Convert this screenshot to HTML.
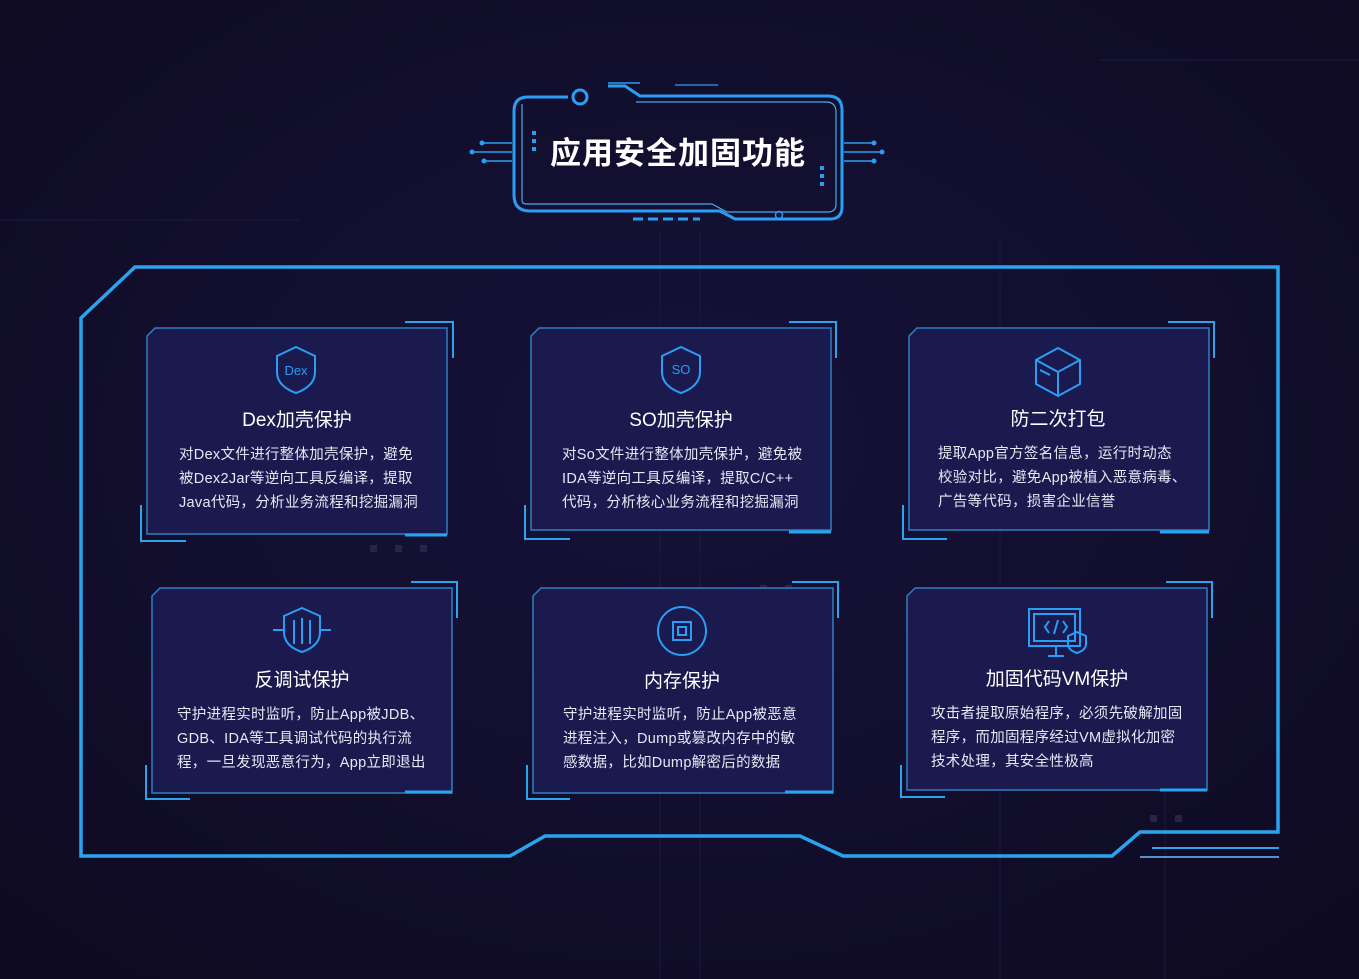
<!DOCTYPE html>
<html><head><meta charset="utf-8"><style>
html,body{margin:0;padding:0;background:#110d27;}
svg{display:block}
text{font-family:"Liberation Sans","Noto Sans CJK SC",sans-serif;}
</style></head><body>
<svg width="1359" height="979" viewBox="0 0 1359 979" xmlns="http://www.w3.org/2000/svg">
<defs>
<radialGradient id="bg" cx="50%" cy="45%" r="70%">
<stop offset="0" stop-color="#15123a"/><stop offset="1" stop-color="#0f0b22"/>
</radialGradient>
</defs>
<rect width="1359" height="979" fill="url(#bg)"/>
<g stroke="#1c1a3e" stroke-width="1" fill="none">
<line x1="660" y1="230" x2="660" y2="979"/><line x1="700" y1="230" x2="700" y2="979"/>
<line x1="1000" y1="240" x2="1000" y2="979"/><line x1="1165" y1="700" x2="1165" y2="979"/>
<line x1="0" y1="220" x2="300" y2="220"/><line x1="1100" y1="60" x2="1359" y2="60"/>
</g>
<g fill="#262448">
<rect x="370" y="545" width="7" height="7"/><rect x="395" y="545" width="7" height="7"/><rect x="420" y="545" width="7" height="7"/>
<rect x="370" y="605" width="7" height="7"/><rect x="395" y="605" width="7" height="7"/><rect x="420" y="605" width="7" height="7"/>
<rect x="370" y="630" width="7" height="7"/><rect x="395" y="630" width="7" height="7"/><rect x="420" y="630" width="7" height="7"/>
<rect x="760" y="585" width="7" height="7"/><rect x="785" y="585" width="7" height="7"/>
<rect x="1150" y="815" width="7" height="7"/><rect x="1175" y="815" width="7" height="7"/>
</g>

<g fill="none" stroke="#2a9df4">
<path d="M568 97 H528 Q514 97 514 111 V195 Q514 211 530 211 H720 L735 219 H830 Q842 219 842 207 V110 Q842 96 828 96 H640 L625 86 H608" stroke-width="3"/>
<path d="M522 104 V200 Q522 204 526 204 H712 L727 212 H828 Q836 212 836 204 V112 Q836 102 826 102 H636" stroke-width="1.2" stroke="#4aa8e8"/>
<circle cx="580" cy="97" r="7" stroke-width="3"/>
<circle cx="779" cy="215" r="3.5" stroke-width="1.5"/>
<line x1="608" y1="83" x2="640" y2="83" stroke-width="1.5"/>
<line x1="675" y1="85" x2="718" y2="85" stroke-width="1.2"/>
<path d="M482 143 H512 M474 152 H512 M484 161 H512 M844 143 H874 M844 152 H880 M844 161 H874" stroke-width="1.5"/>
<path d="M633 219 H700" stroke-width="3" stroke-dasharray="10 5"/>
</g>
<g fill="#2a9df4">
<circle cx="482" cy="143" r="2.5"/><circle cx="472" cy="152" r="2.5"/><circle cx="484" cy="161" r="2.5"/>
<circle cx="874" cy="143" r="2.5"/><circle cx="882" cy="152" r="2.5"/><circle cx="874" cy="161" r="2.5"/>
<rect x="532" y="131" width="4" height="4"/><rect x="532" y="139" width="4" height="4"/><rect x="532" y="147" width="4" height="4"/>
<rect x="820" y="166" width="4" height="4"/><rect x="820" y="174" width="4" height="4"/><rect x="820" y="182" width="4" height="4"/>
</g>
<text x="678" y="164" text-anchor="middle" font-size="31" font-weight="bold" fill="#ffffff" letter-spacing="1">应用安全加固功能</text>

<g fill="none" stroke="#2aa4ef" stroke-width="3.5">
<path d="M81 856 V318 L135 267 H1278 V832 H1140 L1112 856 H843 L800 836 H545 L510 856 Z"/>
</g>
<line x1="1152" y1="848" x2="1279" y2="848" stroke="#2aa4ef" stroke-width="2"/>
<line x1="1140" y1="857" x2="1279" y2="857" stroke="#5a8fc8" stroke-width="2"/>

<g>
<polygon points="155,328 447,328 447,534 147,534 147,336" fill="#1b1a4f" stroke="#2f7fc4" stroke-width="1.5"/>
<path d="M405 322 H453 V358" fill="none" stroke="#2aa4ef" stroke-width="2"/>
<path d="M141 505 V541 H186" fill="none" stroke="#2aa4ef" stroke-width="2"/>
<line x1="405" y1="535" x2="447" y2="535" stroke="#2aa4ef" stroke-width="3"/>
</g>
<g>
<polygon points="539,328 831,328 831,530 531,530 531,336" fill="#1b1a4f" stroke="#2f7fc4" stroke-width="1.5"/>
<path d="M789 322 H836 V358" fill="none" stroke="#2aa4ef" stroke-width="2"/>
<path d="M525 505 V539 H570" fill="none" stroke="#2aa4ef" stroke-width="2"/>
<line x1="789" y1="532" x2="831" y2="532" stroke="#2aa4ef" stroke-width="3"/>
</g>
<g>
<polygon points="917,328 1209,328 1209,530 909,530 909,336" fill="#1b1a4f" stroke="#2f7fc4" stroke-width="1.5"/>
<path d="M1168 322 H1214 V358" fill="none" stroke="#2aa4ef" stroke-width="2"/>
<path d="M903 505 V539 H947" fill="none" stroke="#2aa4ef" stroke-width="2"/>
<line x1="1160" y1="532" x2="1209" y2="532" stroke="#2aa4ef" stroke-width="3"/>
</g>
<g>
<polygon points="160,588 452,588 452,793 152,793 152,596" fill="#1b1a4f" stroke="#2f7fc4" stroke-width="1.5"/>
<path d="M411 582 H457 V618" fill="none" stroke="#2aa4ef" stroke-width="2"/>
<path d="M146 765 V799 H190" fill="none" stroke="#2aa4ef" stroke-width="2"/>
<line x1="405" y1="792" x2="452" y2="792" stroke="#2aa4ef" stroke-width="3"/>
</g>
<g>
<polygon points="541,588 833,588 833,793 533,793 533,596" fill="#1b1a4f" stroke="#2f7fc4" stroke-width="1.5"/>
<path d="M792 582 H838 V618" fill="none" stroke="#2aa4ef" stroke-width="2"/>
<path d="M527 765 V799 H570" fill="none" stroke="#2aa4ef" stroke-width="2"/>
<line x1="785" y1="792" x2="833" y2="792" stroke="#2aa4ef" stroke-width="3"/>
</g>
<g>
<polygon points="915,588 1207,588 1207,790 907,790 907,596" fill="#1b1a4f" stroke="#2f7fc4" stroke-width="1.5"/>
<path d="M1166 582 H1212 V618" fill="none" stroke="#2aa4ef" stroke-width="2"/>
<path d="M901 765 V797 H945" fill="none" stroke="#2aa4ef" stroke-width="2"/>
<line x1="1160" y1="790" x2="1207" y2="790" stroke="#2aa4ef" stroke-width="3"/>
</g>

<g fill="none" stroke="#2a9df4" stroke-width="2">
<path d="M296 347 L315 356 V372 Q315 386 296 393 Q277 386 277 372 V356 Z"/>
<path d="M681 347 L700 356 V372 Q700 386 681 393 Q662 386 662 372 V356 Z"/>
<path d="M1058 348 L1080 360 V384 L1058 396 L1036 384 V360 Z M1036 360 L1058 372 L1080 360 M1058 372 V396 M1040 370 L1050 375"/>
<path d="M302 608 L320 616 V632 Q320 646 302 652 Q284 646 284 632 V616 Z M273 630 H284 M320 630 H331 M294 620 V644 M302 618 V644 M310 620 V644"/>
<circle cx="682" cy="631" r="24"/>
<rect x="673" y="622" width="18" height="18"/><rect x="678" y="627" width="8" height="8"/>
<rect x="1029" y="609" width="51" height="37"/><rect x="1034" y="614" width="41" height="27"/>
<path d="M1048 656 H1064 M1056 646 V656 M1049 621 L1045 627 L1049 633 M1063 621 L1067 627 L1063 633 M1058 620 L1054 634"/>
<path d="M1077 632 L1086 636 V644 Q1086 650 1077 653 Q1068 650 1068 644 V636 Z"/>
</g>
<text x="296" y="375" text-anchor="middle" font-size="13" fill="#2a9df4">Dex</text>
<text x="681" y="374" text-anchor="middle" font-size="13" fill="#2a9df4">SO</text>

<g font-size="19" fill="#ffffff" text-anchor="middle">
<text x="297" y="426">Dex加壳保护</text>
<text x="681" y="426">SO加壳保护</text>
<text x="1058" y="425">防二次打包</text>
<text x="302" y="686">反调试保护</text>
<text x="682" y="687">内存保护</text>
<text x="1057" y="685">加固代码VM保护</text>
</g>
<g font-size="14.5" fill="#e6e8f4" letter-spacing="0.3">
<text x="179" y="459">对Dex文件进行整体加壳保护，避免</text>
<text x="179" y="483">被Dex2Jar等逆向工具反编译，提取</text>
<text x="179" y="507">Java代码，分析业务流程和挖掘漏洞</text>
<text x="562" y="459">对So文件进行整体加壳保护，避免被</text>
<text x="562" y="483">IDA等逆向工具反编译，提取C/C++</text>
<text x="562" y="507">代码，分析核心业务流程和挖掘漏洞</text>
<text x="938" y="458">提取App官方签名信息，运行时动态</text>
<text x="938" y="482">校验对比，避免App被植入恶意病毒、</text>
<text x="938" y="506">广告等代码，损害企业信誉</text>
<text x="177" y="719">守护进程实时监听，防止App被JDB、</text>
<text x="177" y="743">GDB、IDA等工具调试代码的执行流</text>
<text x="177" y="767">程，一旦发现恶意行为，App立即退出</text>
<text x="563" y="719">守护进程实时监听，防止App被恶意</text>
<text x="563" y="743">进程注入，Dump或篡改内存中的敏</text>
<text x="563" y="767">感数据，比如Dump解密后的数据</text>
<text x="931" y="718">攻击者提取原始程序，必须先破解加固</text>
<text x="931" y="742">程序，而加固程序经过VM虚拟化加密</text>
<text x="931" y="766">技术处理，其安全性极高</text>
</g>
</svg>
</body></html>
